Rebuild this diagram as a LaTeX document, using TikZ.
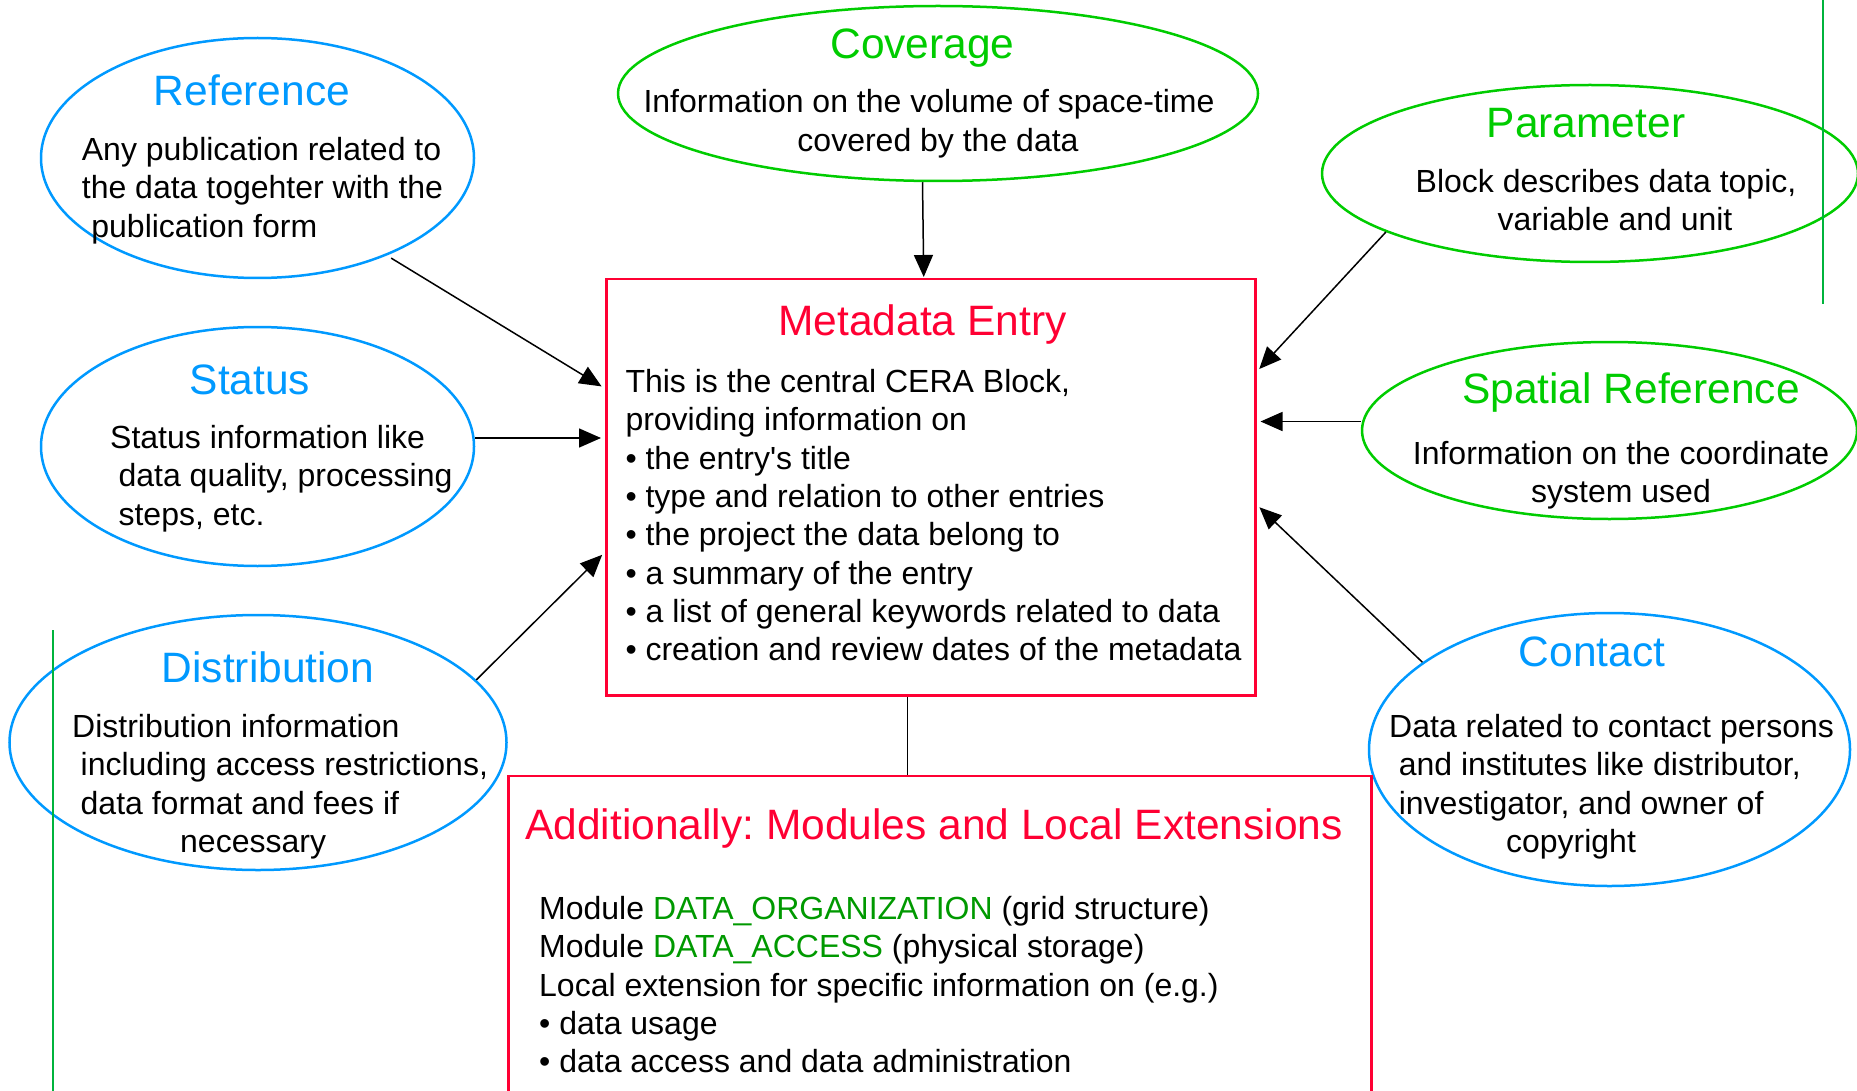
\documentclass[tikz,border=0pt]{standalone}
\usepackage{fontspec}
\setmainfont{Liberation Sans}[Ligatures=TeXOff]
\usetikzlibrary{shapes.geometric,arrows.meta}
\definecolor{cblue}{RGB}{0,153,255}
\definecolor{cgreen}{RGB}{0,204,0}
\definecolor{dgreen}{RGB}{0,153,0}
\definecolor{cred}{RGB}{255,0,51}
\definecolor{vgreen}{RGB}{0,180,60}
\frenchspacing
\begin{document}
\begin{tikzpicture}[x=1pt,y=-1pt,
  ell/.style={ellipse, line width=2.5pt, inner sep=0pt},
  blueell/.style={ell, draw=cblue},
  greenell/.style={ell, draw=cgreen},
  box/.style={draw=cred, line width=2.5pt, inner sep=0pt, anchor=north west},
  ttl/.style={font=\fontsize{42.5}{51}\selectfont, anchor=base, inner sep=0pt},
  txt/.style={font=\fontsize{32}{38.3}\selectfont, anchor=base west, inner sep=0pt, yshift=-4.5pt},
  ctxt/.style={font=\fontsize{32}{38.3}\selectfont, anchor=base, inner sep=0pt, yshift=-4.5pt},
  arr/.style={line width=1.5pt, -{Triangle[length=22pt,width=19pt]}, shorten >=4pt},
  vline/.style={draw=vgreen, line width=2pt}
]
\useasboundingbox (0,0) rectangle (1857,1091);

% ellipses and boxes
\node[blueell, minimum width=433pt, minimum height=240pt] (ref) at (257.5,158) {};
\node[blueell, minimum width=433pt, minimum height=239pt] (stat) at (257.5,446.5) {};
\node[blueell, minimum width=497pt, minimum height=255pt] (dist) at (258,742.5) {};
\node[greenell, minimum width=640pt, minimum height=175pt] (cov) at (938,93.5) {};
\node[greenell, minimum width=536pt, minimum height=177pt] (par) at (1590,173.5) {};
\node[greenell, minimum width=495pt, minimum height=177pt] (spa) at (1609.5,430.5) {};
\node[blueell, minimum width=481pt, minimum height=273pt] (con) at (1609.5,749.5) {};
\node[box, minimum width=649pt, minimum height=416pt] (meta) at (605,278) {};
\node[box, minimum width=863pt, minimum height=400pt] (add) at (507,774.5) {};

% green vertical lines
\coordinate (g1a) at (53,630);
\coordinate (g1b) at (53,1091);
\coordinate (g2a) at (1822.5,0);
\coordinate (g2b) at (1822.5,304);
\draw[vline] (g1a) -- (g1b);
\draw[vline] (g2a) -- (g2b);

% Reference
\node[ttl, text=cblue] (refT) at (252,106) {Reference};
\node[txt] (ref1) at (81.7,156) {Any publication related to};
\node[txt] (ref2) at (81.7,194.3) {the data togehter with the};
\node[txt] (ref3) at (91.2,232.6) {publication form};

% Status
\node[ttl, text=cblue] (statT) at (250,394) {Status};
\node[txt] (stat1) at (110,444) {Status information like};
\node[txt] (stat2) at (118.4,482.3) {data quality, processing};
\node[txt] (stat3) at (118.4,520.6) {steps, etc.};

% Distribution
\node[ttl, text=cblue] (distT) at (268,682) {Distribution};
\node[txt] (dist1) at (72,733) {Distribution information};
\node[txt] (dist2) at (80.5,771.3) {including access restrictions,};
\node[txt] (dist3) at (80.5,809.6) {data format and fees if};
\node[txt] (dist4) at (180,847.9) {necessary};

% Coverage
\node[ttl, text=cgreen] (covT) at (922.5,59) {Coverage};
\node[ctxt] (cov1) at (929,108.5) {Information on the volume of space-time};
\node[ctxt] (cov2) at (938,146.8) {covered by the data};

% Parameter
\node[ttl, text=cgreen] (parT) at (1586,138) {Parameter};
\node[ctxt] (par1) at (1606,188) {Block describes data topic,};
\node[ctxt] (par2) at (1615,226.3) {variable and unit};

% Spatial Reference
\node[ttl, text=cgreen] (spaT) at (1631,403) {Spatial Reference};
\node[ctxt] (spa1) at (1621,460) {Information on the coordinate};
\node[ctxt] (spa2) at (1621,498.3) {system used};

% Contact
\node[ttl, text=cblue] (conT) at (1592,666) {Contact};
\node[txt] (con1) at (1389,733) {Data related to contact persons};
\node[txt] (con2) at (1398.6,771.3) {and institutes like distributor,};
\node[txt] (con3) at (1398.6,809.6) {investigator, and owner of};
\node[ctxt] (con4) at (1571,847.9) {copyright};

% Metadata Entry
\node[ttl, text=cred] (metaT) at (922.5,335) {Metadata Entry};
\node[txt] (m1) at (625.3,388) {This is the central CERA Block,};
\node[txt] (m2) at (625.3,426.3) {providing information on};
\node[txt] (m3) at (625.3,464.6) {• the entry's title};
\node[txt] (m4) at (625.3,502.9) {• type and relation to other entries};
\node[txt] (m5) at (625.3,541.2) {• the project the data belong to};
\node[txt] (m6) at (625.3,579.5) {• a summary of the entry};
\node[txt] (m7) at (625.3,617.8) {• a list of general keywords related to data};
\node[txt] (m8) at (625.3,656.1) {• creation and review dates of the metadata};

% Additionally
\node[ttl, text=cred] (addT) at (934,839) {Additionally: Modules and Local Extensions};
\node[txt] (a1) at (539,915) {Module \textcolor{dgreen}{DATA\_ORGANIZATION} (grid structure)};
\node[txt] (a2) at (539,953.3) {Module \textcolor{dgreen}{DATA\_ACCESS} (physical storage)};
\node[txt] (a3) at (539,991.6) {Local extension for specific information on (e.g.)};
\node[txt] (a4) at (539,1029.9) {• data usage};
\node[txt] (a5) at (539,1068.2) {• data access and data administration};

% connectors
\draw[arr, shorten >=1pt] ([xshift=-15.5pt]cov.south) -- ([xshift=-7pt]meta.north);
\draw[arr, shorten <=5pt] (ref.-37.6) -- ([yshift=-110.5pt]meta.north west);
\draw[arr] ([yshift=8.5pt]stat.east) -- ([yshift=8.5pt]stat.east -| meta.west);
\draw[arr] (dist.16.5) -- ([yshift=-274pt]meta.north west);
\draw[arr] (par.196) -- ([yshift=-94pt]meta.north east);
\draw[arr] ([yshift=9pt]spa.west) -- ([yshift=9pt]spa.west -| meta.east);
\draw[arr] (con.155.4) -- ([yshift=-226.5pt]meta.north east);
\draw[line width=1.5pt] ([xshift=-23.5pt]meta.south) -- ([xshift=-23.5pt]meta.south |- add.north);
\end{tikzpicture}
\end{document}
